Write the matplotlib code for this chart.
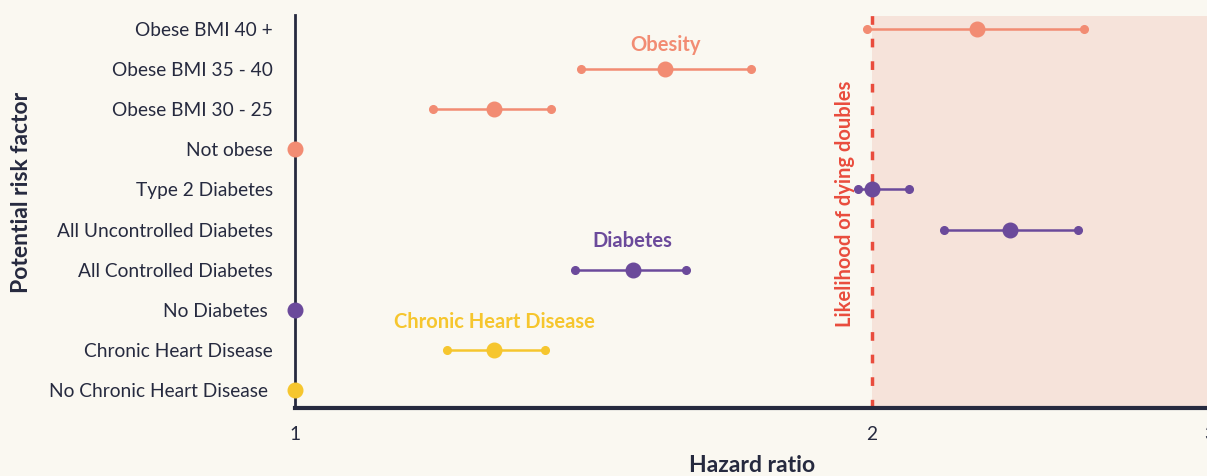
import numpy as np
import matplotlib.pyplot as plt

plt.rcParams['font.family'] = ['Lato', 'DejaVu Sans']

# 数据：从下到上
labels = ['No Chronic Heart Disease ', 'Chronic Heart Disease', 'No Diabetes ',
          'All Controlled Diabetes', 'All Uncontrolled Diabetes', 'Type 2 Diabetes',
          'Not obese', 'Obese BMI 30 - 25', 'Obese BMI 35 - 40', 'Obese BMI 40 +']
hazard = [1.0, 1.27, 1.0, 1.50, 2.36, 2.0, 1.0, 1.27, 1.56, 2.27]
ci_low = [None, 1.20, None, 1.40, 2.18, 1.967, None, 1.18, 1.41, 1.987]
ci_high = [None, 1.35, None, 1.60, 2.56, 2.09, None, 1.36, 1.73, 2.58]
groups = ['chd', 'chd', 'dia', 'dia', 'dia', 'dia', 'obe', 'obe', 'obe', 'obe']

group_names = {'chd': 'Chronic Heart Disease', 'dia': 'Diabetes', 'obe': 'Obesity'}
group_colors = {'chd': '#f6c62e', 'dia': '#6b4a9b', 'obe': '#f28c73'}
group_label_pos = {'chd': (1.27, 1.7), 'dia': (1.50, 3.72), 'obe': (1.56, 8.6)}

bg = '#faf8f1'
navy = '#262a3f'
red = '#e94c3d'

fig = plt.figure(figsize=(12.07, 4.76), dpi=100, facecolor=bg)
W, H = 1207, 476
ax = fig.add_axes([295 / W, 1 - 408 / H, 914.6 / W, (408 - 15) / H])
ax.set_facecolor(bg)
ax.set_xscale('log')
ax.set_xlim(1, 3)
ax.set_ylim(-0.45, 9.35)

# 阴影区域和虚线
ax.axvspan(2, 3, ymin=0, ymax=0.997, color='#f6e3da', zorder=0, lw=0)
ax.axvline(2, color=red, lw=2.5, ls=(0, (2.5, 4)), zorder=1)
ax.text(1.935, 4.65, 'Likelihood of dying doubles', rotation=90, color=red,
        fontsize=14.5, fontweight='bold', ha='center', va='center')

y = np.arange(len(labels))
for i in range(len(labels)):
    c = group_colors[groups[i]]
    if ci_low[i] is not None:
        ax.plot([ci_low[i], ci_high[i]], [y[i], y[i]], color=c, lw=1.8, zorder=2)
        ax.plot([ci_low[i], ci_high[i]], [y[i], y[i]], 'o', color=c, ms=5.5, zorder=3)
    ax.plot(hazard[i], y[i], 'o', color=c, ms=10.5, zorder=4, clip_on=False)

for g, (gx, gy) in group_label_pos.items():
    ax.text(gx, gy, group_names[g], color=group_colors[g], fontsize=14.5,
            fontweight='bold', ha='center', va='center')

ax.set_yticks(y)
ax.set_yticklabels(labels, fontsize=13.8, color=navy)
ax.set_xticks([1, 2, 3])
ax.set_xticklabels(['1', '2', '3'], fontsize=13.8, color=navy)
ax.xaxis.set_minor_locator(plt.NullLocator())
ax.tick_params(axis='both', length=0)
ax.tick_params(axis='y', pad=16)
ax.tick_params(axis='x', pad=13)

for s in ['top', 'right']:
    ax.spines[s].set_visible(False)
ax.spines['left'].set_color(navy)
ax.spines['left'].set_linewidth(2)
ax.spines['bottom'].set_color(navy)
ax.spines['bottom'].set_linewidth(3)

fig.text(752 / W, 1 - 465 / H, 'Hazard ratio', fontsize=16.5, fontweight='bold',
         color=navy, ha='center', va='center')
fig.text(22 / W, 1 - 192 / H, 'Potential risk factor', fontsize=16.5, fontweight='bold',
         color=navy, ha='center', va='center', rotation=90)

fig.savefig('out.png', dpi=100, facecolor=bg)
